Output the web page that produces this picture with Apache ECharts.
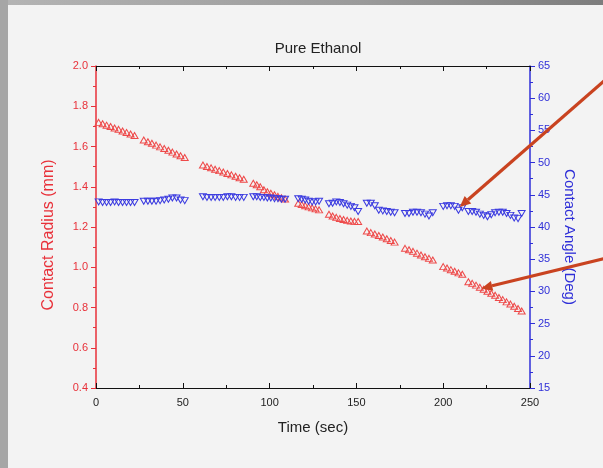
<!DOCTYPE html>
<html>
<head>
	<meta charset="UTF-8">
	<title>Pure Ethanol</title>
	<style>
		* { margin: 0; padding: 0; }
		html, body { width: 603px; height: 468px; overflow: hidden; background: #f3f3f3; }
		.frame_top { position: absolute; left: 0; top: 0; width: 603px; height: 5px;
			background: linear-gradient(to right, #b4b4b4, #9a9a9a 60%, #7d7d7d); }
		.frame_left { position: absolute; left: 0; top: 0; width: 8px; height: 468px; background: #a6a6a6; }
		#charts { position: absolute; left: 0; top: 0; width: 603px; height: 468px; }
	</style>
</head>
<body>
	<div id="charts"></div>
	<div class="frame_top"></div>
	<div class="frame_left"></div>
</body>
<script src="https://cdn.jsdelivr.net/npm/echarts@6/dist/echarts.min.js"></script>
<script>
	// time (sec)
	var time = [
		1.5, 3.8, 6.1, 8.4, 10.7, 13, 15.3, 17.6, 19.9, 22.2,
		27.5, 29.9, 32.2, 34.6, 36.9, 39.3, 41.7, 44.0, 46.4, 48.7, 51.1,
		61.6, 63.9, 66.3, 68.6, 71.0, 73.3, 75.7, 78.0, 80.4, 82.7, 85.1,
		90.6, 92.6, 94.6, 96.7, 98.7, 100.7, 102.8, 104.8, 106.8, 108.9,
		116.5, 118.5, 120.5, 122.5, 124.5, 126.5, 128.5,
		134.2, 136.3, 138.4, 140.5, 142.6, 144.7, 146.8, 148.9, 151.0,
		156, 158.3, 160.6, 162.9, 165.2, 167.5, 169.8, 172,
		178, 180.3, 182.6, 184.9, 187.2, 189.5, 191.8, 194,
		200, 202.2, 204.4, 206.6, 208.8, 211,
		214.5, 216.7, 218.9, 221.1, 223.3, 225.5, 227.7, 229.9, 232.1, 234.3, 236.5, 238.7, 240.9, 243.1, 245.2
	];
	// contact radius (mm)
	var radius = [
		1.720, 1.713, 1.706, 1.699, 1.692, 1.685, 1.677, 1.670, 1.662, 1.655,
		1.632, 1.624, 1.616, 1.607, 1.598, 1.590, 1.581, 1.572, 1.563, 1.554, 1.545,
		1.508, 1.501, 1.494, 1.487, 1.480, 1.473, 1.466, 1.459, 1.452, 1.445, 1.437,
		1.417, 1.410, 1.400, 1.385, 1.375, 1.368, 1.360, 1.352, 1.345, 1.339,
		1.318, 1.312, 1.306, 1.300, 1.295, 1.290, 1.285,
		1.263, 1.255, 1.248, 1.242, 1.237, 1.233, 1.230, 1.228, 1.227,
		1.180, 1.172, 1.165, 1.158, 1.150, 1.142, 1.133, 1.125,
		1.094, 1.087, 1.079, 1.070, 1.061, 1.052, 1.044, 1.036,
		1.003, 0.996, 0.988, 0.980, 0.972, 0.965,
		0.928, 0.920, 0.911, 0.901, 0.891, 0.881, 0.871, 0.861, 0.850, 0.839, 0.828, 0.817, 0.806, 0.795, 0.783
	];
	// contact angle (deg)
	var angle = [
		43.9, 43.8, 43.8, 43.8, 43.9, 43.8, 43.8, 43.8, 43.8, 43.8,
		44.0, 44.0, 44.0, 44.0, 44.1, 44.2, 44.3, 44.5, 44.5, 44.2, 44.1,
		44.7, 44.6, 44.6, 44.6, 44.6, 44.6, 44.7, 44.7, 44.6, 44.6, 44.6,
		44.7, 44.7, 44.6, 44.6, 44.5, 44.5, 44.4, 44.4, 44.3, 44.3,
		44.4, 44.3, 44.2, 44.0, 43.9, 43.9, 44.0,
		43.6, 43.7, 43.9, 43.8, 43.6, 43.4, 43.2, 43.0, 42.4,
		43.7, 43.7, 43.3, 42.6, 42.5, 42.4, 42.3, 42.2,
		42.1, 42.1, 42.3, 42.3, 42.2, 42.0, 41.7, 42.2,
		43.2, 43.3, 43.3, 43.2, 42.6, 43.0,
		42.4, 42.4, 42.3, 42.0, 41.8, 41.6, 41.9, 42.2, 42.3, 42.3, 42.1, 41.8, 41.4, 41.3, 42.1
	];

	var RED = '#e8313a';
	var BLUE = '#2f2fd8';
	var FONT = '"Liberation Sans", Arial, sans-serif';

	var radiusData = [];
	var angleData = [];
	for (var i = 0; i < time.length; i++) {
		radiusData.push([time[i], radius[i]]);
		angleData.push([time[i], angle[i]]);
	}

	var mycharts = echarts.init(document.getElementById('charts'));
	var option = {
		animation: false,
		backgroundColor: 'transparent',
		textStyle: { fontFamily: FONT },
		title: {
			text: 'Pure Ethanol',
			left: 313, top: 36, textAlign: 'center',
			textStyle: { fontSize: 15, fontWeight: 'normal', color: '#222', fontFamily: FONT }
		},
		grid: { left: 96, right: 73, top: 66, bottom: 80 },
		xAxis: [
			{
				type: 'value', min: 0, max: 250, interval: 50,
				name: 'Time (sec)', nameLocation: 'middle', nameGap: 32,
				nameTextStyle: { fontSize: 15, color: '#222' },
				axisLine: { onZero: false, lineStyle: { color: '#111', width: 1.2 } },
				axisTick: { inside: true, length: 5, lineStyle: { color: '#111' } },
				minorTick: { show: true, splitNumber: 2, length: 3, lineStyle: { color: '#111' } },
				axisLabel: { color: '#222', fontSize: 11, margin: 9 },
				splitLine: { show: false }
			},
			{
				type: 'value', position: 'top', min: 0, max: 250, interval: 50,
				axisLine: { onZero: false, lineStyle: { color: '#111', width: 1.2 } },
				axisTick: { inside: true, length: 5, lineStyle: { color: '#111' } },
				minorTick: { show: true, splitNumber: 2, length: 3, lineStyle: { color: '#111' } },
				axisLabel: { show: false },
				splitLine: { show: false }
			}
		],
		yAxis: [
			{
				type: 'value', min: 0.4, max: 2.0, interval: 0.2,
				name: 'Contact Radius (mm)', nameLocation: 'middle', nameGap: 39,
				nameTextStyle: { fontSize: 16, color: RED, padding: [0, 16, 0, 0] },
				axisLine: { onZero: false, lineStyle: { color: RED, width: 1.5 } },
				axisTick: { length: 5, lineStyle: { color: RED } },
				minorTick: { show: true, splitNumber: 2, length: 3, lineStyle: { color: RED } },
				axisLabel: { color: RED, fontSize: 11, margin: 8, formatter: function (v) { return v.toFixed(1); } },
				splitLine: { show: false }
			},
			{
				type: 'value', min: 15, max: 65, interval: 5, position: 'right',
				name: 'Contact Angle (Deg)', nameLocation: 'middle', nameGap: 32, nameRotate: -90,
				nameTextStyle: { fontSize: 15, color: BLUE, padding: [0, 0, 0, 20] },
				axisLine: { onZero: false, lineStyle: { color: BLUE, width: 1.5 } },
				axisTick: { length: 5, lineStyle: { color: BLUE } },
				minorTick: { show: true, splitNumber: 2, length: 3, lineStyle: { color: BLUE } },
				axisLabel: { color: BLUE, fontSize: 11, margin: 8 },
				splitLine: { show: false }
			}
		],
		series: [
			{
				name: 'Contact Radius', type: 'scatter', xAxisIndex: 0, yAxisIndex: 0,
				symbol: 'triangle', symbolSize: [7, 6],
				itemStyle: { color: 'rgba(0,0,0,0)', borderColor: '#ee4a4a', borderWidth: 1, opacity: 1 },
				data: radiusData
			},
			{
				name: 'Contact Angle', type: 'scatter', xAxisIndex: 0, yAxisIndex: 1,
				symbol: 'triangle', symbolRotate: 180, symbolSize: [7, 6],
				itemStyle: { color: 'rgba(0,0,0,0)', borderColor: '#3b3be0', borderWidth: 1, opacity: 1 },
				data: angleData
			}
		]
	};
	mycharts.setOption(option);

	// 红色箭头（注释）
	function arrow(tip, slope) {
		var tailX = 640;
		var tailY = tip[1] + slope * (tailX - tip[0]);
		var dx = tailX - tip[0], dy = tailY - tip[1];
		var len = Math.sqrt(dx * dx + dy * dy);
		var ux = dx / len, uy = dy / len;
		var hl = 11, hw = 5;
		var bx = tip[0] + ux * hl, by = tip[1] + uy * hl;
		return [
			{ type: 'line', shape: { x1: bx, y1: by, x2: tailX, y2: tailY },
				style: { stroke: '#c94320', lineWidth: 3.2 }, z: 100 },
			{ type: 'polygon', shape: { points: [tip, [bx - uy * hw, by + ux * hw], [bx + uy * hw, by - ux * hw]] },
				style: { fill: '#c94320' }, z: 100 }
		];
	}
	var tip1 = mycharts.convertToPixel({ xAxisIndex: 0, yAxisIndex: 1 }, [209.5, 43.1]);
	var tip2 = mycharts.convertToPixel({ xAxisIndex: 0, yAxisIndex: 0 }, [222, 0.895]);
	mycharts.setOption({ graphic: arrow(tip1, -0.874).concat(arrow(tip2, -0.243)) });
</script>
</html>
